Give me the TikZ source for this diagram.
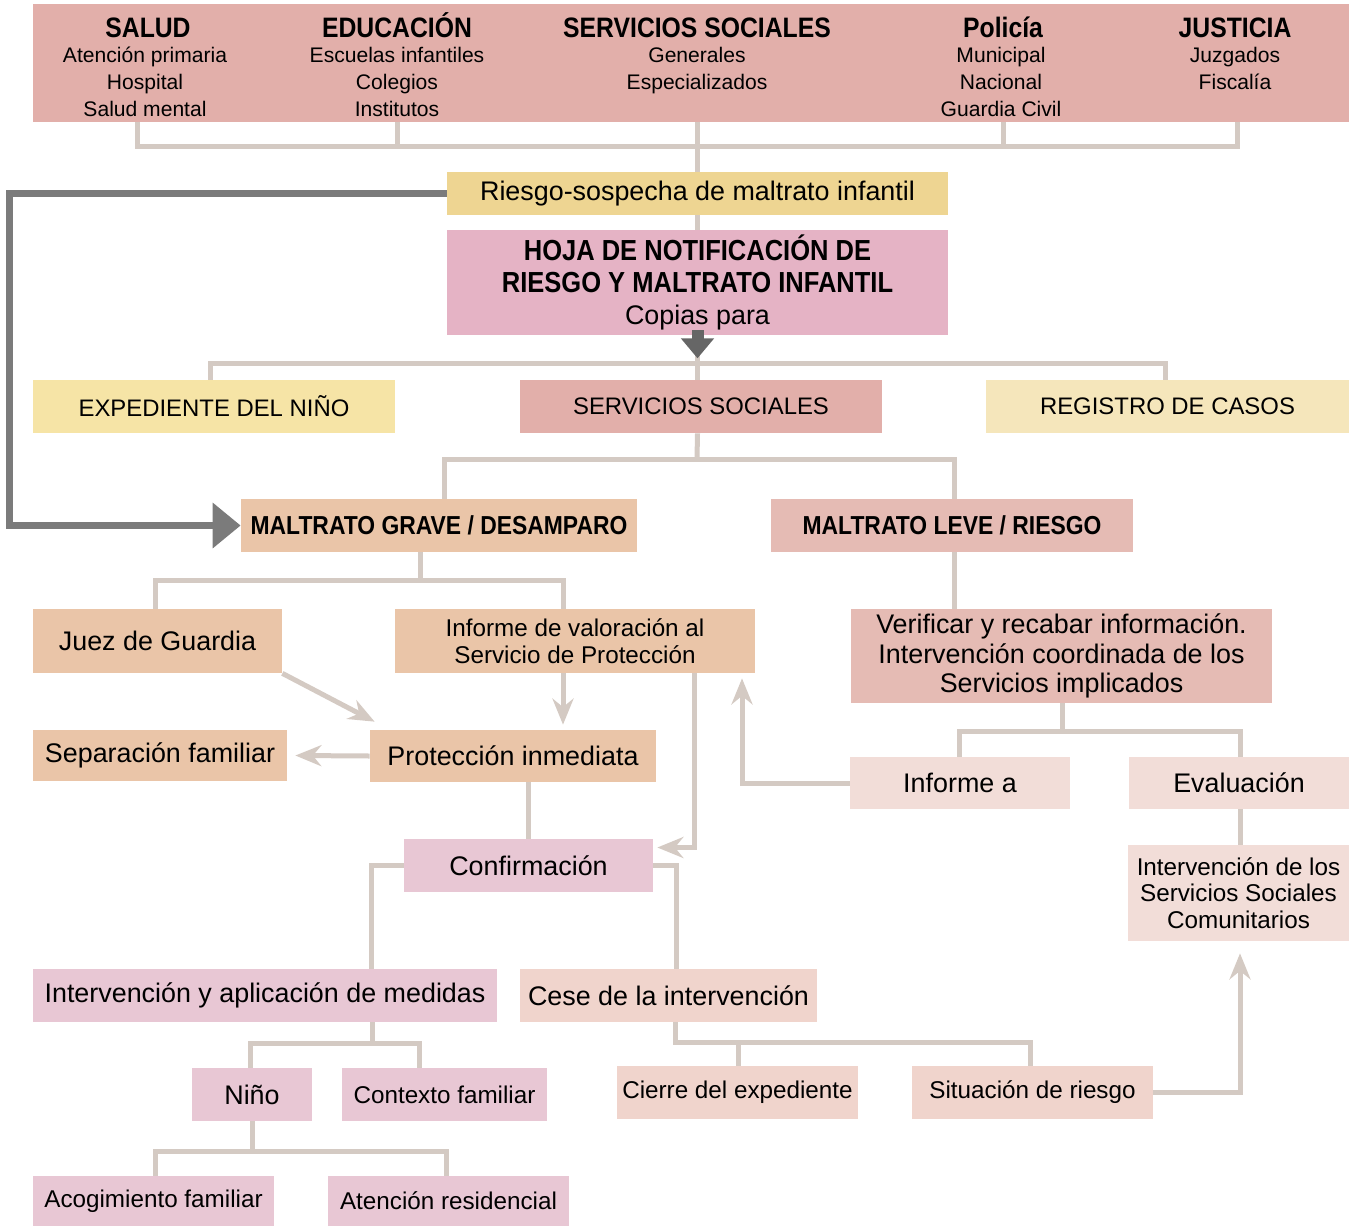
\documentclass[tikz,border=0pt]{standalone}
\usepackage{fontspec}
\setmainfont{Liberation Sans}[BoldFeatures={FakeStretch=0.88}]
\usepackage{tikz}
\usetikzlibrary{arrows.meta,calc}
\definecolor{cFuente}{HTML}{E2AFAA}
\definecolor{cRiesgo}{HTML}{EED592}
\definecolor{cHoja}{HTML}{E5B3C5}
\definecolor{cExped}{HTML}{F6E4A6}
\definecolor{cRegistro}{HTML}{F5E6BB}
\definecolor{cGrave}{HTML}{EAC5A8}
\definecolor{cLeve}{HTML}{E5BBB4}
\definecolor{cInforme}{HTML}{F2DDD8}
\definecolor{cConfirm}{HTML}{E8C7D4}
\definecolor{cCese}{HTML}{F0D4CC}
\definecolor{cLinea}{HTML}{D4CAC3}
\definecolor{cGris}{HTML}{7B7B7B}
\definecolor{cOscuro}{HTML}{666666}
\newcommand{\fgrande}{\fontsize{15.3}{17}\selectfont}
\newcommand{\fchica}{\fontsize{13.8}{15.2}\selectfont}
\newcommand{\flista}{\fontsize{12}{15.3}\selectfont}
\newcommand{\fcab}{\fontsize{16}{18}\selectfont\bfseries}
\newcommand{\fhoja}{\fontsize{16.5}{18}\selectfont\bfseries}
\newcommand{\fmal}{\fontsize{14.8}{17}\selectfont\bfseries}
\newcommand{\fmayus}{\fontsize{13.6}{17}\selectfont}
\newcommand{\fverif}{\fontsize{15.3}{16.8}\selectfont}
\tikzset{
  caja/.style={rectangle, inner sep=0pt, align=center, font=\fgrande},
  cabecera/.style={anchor=base, inner sep=0pt, font=\fcab},
  lista/.style={anchor=north, inner sep=0pt, align=center, font=\flista},
  linea/.style={draw=cLinea, line width=0.1cm},
  flecha/.style={linea, -{Stealth[length=0.52cm, width=0.42cm, inset=0.17cm]}},
  flechagruesa/.style={draw=cGris, line width=0.15cm, -{Triangle[length=0.56cm, width=0.88cm]}},
  flechanegra/.style={draw=cOscuro, line width=0.24cm, -{Triangle[length=0.4cm, width=0.64cm]}}
}
% caja: nombre, x1, y1, x2, y2 (en px), opciones, texto
\newcommand{\caja}[7]{\node[caja, #6, minimum width={(#4-#2)*0.02cm}, minimum height={(#5-#3)*0.02cm}] (#1) at ({(#2+#4)/2},{(#3+#5)/2}) {#7};}

\begin{document}
\begin{tikzpicture}[x=0.02cm, y=-0.02cm]
\useasboundingbox (0,0) rectangle (1352,1227);

% servicios de origen
\caja{fuentes}{33}{4}{1349}{122}{fill=cFuente}{}
\node[cabecera] (salud) at (148,37) {SALUD};
\node[lista] (salud-l) at (145,47) {Atención primaria\\Hospital\\Salud mental};
\node[cabecera] (educacion) at (397,37) {EDUCACIÓN};
\node[lista] (educacion-l) at (397,47) {Escuelas infantiles\\Colegios\\Institutos};
\node[cabecera] (servicios) at (697,37) {SERVICIOS SOCIALES};
\node[lista] (servicios-l) at (697,47) {Generales\\Especializados};
\node[cabecera] (policia) at (1003,37) {Policía};
\node[lista] (policia-l) at (1001,47) {Municipal\\Nacional\\Guardia Civil};
\node[cabecera] (justicia) at (1235,37) {JUSTICIA};
\node[lista] (justicia-l) at (1235,47) {Juzgados\\Fiscalía};

\caja{riesgo}{447}{172}{948}{215}{fill=cRiesgo}{Riesgo-sospecha de maltrato infantil}
\caja{hoja}{447}{230}{948}{335}{fill=cHoja, font=\fontsize{15}{18}\selectfont}{\fhoja HOJA DE NOTIFICACIÓN DE\\\fhoja RIESGO Y MALTRATO INFANTIL\\\fgrande Copias para}

\coordinate (bus0) at (697,146);
\draw[linea] (fuentes.south -| 137,0) |- (bus0) -| (fuentes.south -| 1237,0);
\draw[linea] (fuentes.south -| educacion) -- (educacion |- bus0);
\draw[linea] (fuentes.south -| policia) -- (policia |- bus0);
\draw[linea] (fuentes.south -| riesgo) -- (riesgo.north);
\draw[linea] (riesgo.south) -- (hoja.north);

% copias
\caja{expediente}{33}{380}{395}{433}{fill=cExped, font=\fmayus}{EXPEDIENTE DEL NIÑO}
\caja{sociales}{520}{380}{882}{433}{fill=cFuente, font=\fmayus}{SERVICIOS SOCIALES}
\caja{registro}{986}{380}{1349}{433}{fill=cRegistro, font=\fmayus}{REGISTRO DE CASOS}

\coordinate (bus1) at (697,363);
\draw[linea] (expediente.north -| 210,0) |- (bus1) -| (registro.north -| 1165,0);
\draw[linea] (hoja.south) -- (hoja.south |- sociales.north);
\draw[flechanegra] ([yshift=0.1cm]hoja.south) -- ([yshift=-0.46cm]hoja.south);

% tipos de maltrato
\caja{grave}{241}{499}{637}{552}{fill=cGrave, font=\fmal}{MALTRATO GRAVE / DESAMPARO}
\caja{leve}{771}{499}{1133}{552}{fill=cLeve, font=\fmal}{MALTRATO LEVE / RIESGO}

\coordinate (bus2) at (697,459);
\draw[linea] (hoja.south |- sociales.south) -- (bus2);
\draw[linea] (grave.north -| 444,0) |- (bus2) -| (leve.north -| 954,0);
\draw[flechagruesa] (riesgo.west) -- ++(-437,0) |- (grave.west);

% maltrato grave
\caja{juez}{33}{609}{282}{673}{fill=cGrave}{Juez de Guardia}
\caja{valoracion}{395}{609}{755}{673}{fill=cGrave, font=\fchica}{Informe de valoración al\\Servicio de Protección}
\caja{separacion}{33}{730}{287}{781}{fill=cGrave}{Separación familiar}
\caja{proteccion}{370}{730}{656}{782}{fill=cGrave}{Protección inmediata}
\caja{confirmacion}{404}{839}{653}{892}{fill=cConfirm}{Confirmación}

\coordinate (bus3) at (420,580);
\draw[linea] (grave.south -| bus3) -- (bus3);
\draw[linea] (juez.north -| 155,0) |- (bus3) -| (valoracion.north -| 563,0);
\draw[flecha] (juez.south east) -- ([shift={(5,-8)}]proteccion.north west);
\draw[flecha] (valoracion.south -| 563,0) -- ([yshift=0.1cm]proteccion.north -| 563,0);
\draw[flecha] (proteccion.west) -- ([xshift=0.16cm]separacion.east);
\draw[linea] (confirmacion.north |- proteccion.south) -- (confirmacion.north);
\draw[flecha] (valoracion.south -| 694,0) |- ([xshift=0.08cm, yshift=0.36cm]confirmacion.east);

% maltrato leve
\caja{verificar}{851}{609}{1272}{703}{fill=cLeve, font=\fverif}{Verificar y recabar información.\\Intervención coordinada de los\\Servicios implicados}
\caja{informe}{850}{757}{1070}{809}{fill=cInforme}{Informe a}
\caja{evaluacion}{1129}{757}{1349}{809}{fill=cInforme}{Evaluación}
\caja{comunitarios}{1128}{845}{1349}{941}{fill=cInforme, font=\fchica}{Intervención de los\\Servicios Sociales\\Comunitarios}

\draw[linea] (leve.south -| 954,0) -- (verificar.north -| 954,0);
\coordinate (bus4) at (1062,731);
\draw[linea] (verificar.south -| bus4) -- (bus4);
\draw[linea] (informe.north -| 959,0) |- (bus4) -| (evaluacion.north -| 1240,0);
\draw[linea] (evaluacion.south -| 1240,0) -- (comunitarios.north -| 1240,0);
\draw[flecha] (informe.west) -| ([yshift=-0.1cm]valoracion.south -| 742,0);

% tras la confirmacion
\caja{aplicacion}{33}{969}{497}{1022}{fill=cConfirm}{Intervención y aplicación de medidas}
\caja{cese}{520}{969}{817}{1022}{fill=cCese}{Cese de la intervención}
\caja{nino}{192}{1068}{312}{1121}{fill=cConfirm}{Niño}
\caja{contexto}{342}{1068}{547}{1121}{fill=cConfirm, font=\fchica}{Contexto familiar}
\caja{cierre}{617}{1066}{858}{1119}{fill=cCese, font=\fchica}{Cierre del expediente}
\caja{situacion}{912}{1066}{1153}{1119}{fill=cCese, font=\fchica}{Situación de riesgo}
\caja{acogimiento}{33}{1176}{274}{1226}{fill=cConfirm, font=\fchica}{Acogimiento familiar}
\caja{atencion}{328}{1176}{569}{1226}{fill=cConfirm, font=\fchica}{Atención residencial}

\draw[linea] (confirmacion.west) -| (aplicacion.north -| 371,0);
\draw[linea] (confirmacion.east) -| (cese.north -| 676,0);

\coordinate (bus5) at (372,1043);
\draw[linea] (aplicacion.south -| bus5) -- (bus5);
\draw[linea] (nino.north -| 250,0) |- (bus5) -| (contexto.north -| 419,0);

\coordinate (bus6) at (252,1151);
\draw[linea] (nino.south -| bus6) -- (bus6);
\draw[linea] (acogimiento.north -| 155,0) |- (bus6) -| (atencion.north -| 446,0);

\coordinate (bus7) at (738,1042);
\draw[linea] (cese.south -| 675,0) |- (bus7) -| (situacion.north -| 1030,0);
\draw[linea] (bus7) -- (cierre.north -| bus7);
\draw[flecha] (situacion.east) -| ([yshift=-0.24cm]comunitarios.south -| 1240,0);

\end{tikzpicture}
\end{document}
